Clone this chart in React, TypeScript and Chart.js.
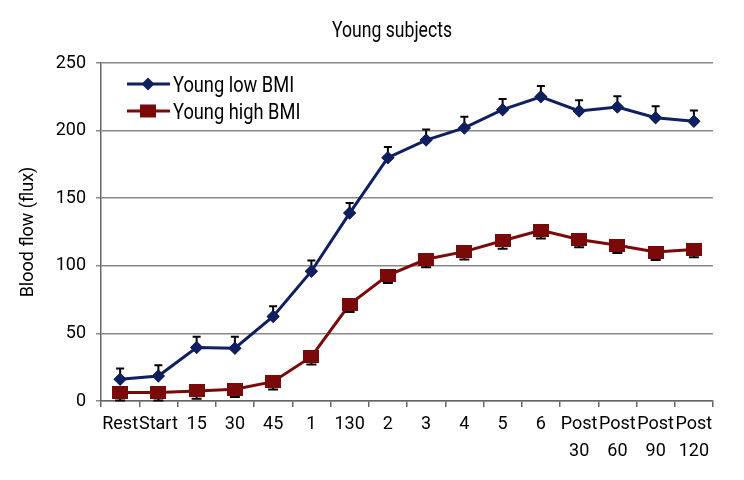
import React, { useEffect, useRef } from "react";
import { Chart, registerables } from "chart.js";

Chart.register(...registerables);

const categories: (string | string[])[] = [
  "Rest", "Start", "15", "30", "45", "1", "130", "2", "3", "4", "5", "6",
  ["Post", "30"], ["Post", "60"], ["Post", "90"], ["Post", "120"],
];
const lowBMI = [16, 18.5, 39.5, 39, 62.5, 96, 139, 180, 193, 202, 215.5, 225, 214.5, 217.5, 209.5, 207];
const lowBMIErr = [8, 8, 8, 8.5, 7.6, 7.9, 7.4, 7.9, 7.9, 8.2, 7.9, 8, 7.9, 7.9, 8.5, 7.9];
const highBMI = [6.2, 6.2, 7.4, 8.7, 14.3, 32.8, 71.5, 93, 104.8, 110.5, 118.5, 126.3, 119.5, 115.2, 110.2, 112];
const highBMIErr = [5.8, 5.8, 5.8, 5.8, 5.8, 5.8, 5.7, 5.8, 5.8, 5.8, 5.8, 6.2, 5.8, 5.8, 5.9, 5.6];
const yTicks = [0, 50, 100, 150, 200, 250];

const FONT = "Roboto, 'Liberation Sans', sans-serif";
const BLUE = "#0f1f5f";
const RED = "#7a0a0a";

function makeRectMarker(w: number, h: number, color: string) {
  const c = document.createElement("canvas");
  c.width = w;
  c.height = h;
  const cx = c.getContext("2d")!;
  cx.fillStyle = color;
  cx.fillRect(0, 0, w, h);
  return c;
}

const errorBarPlugin = {
  id: "errorBars",
  afterDatasetsDraw(chart: any) {
    const ctx = chart.ctx;
    const y = chart.scales.y;
    const sets = [
      { idx: 0, err: lowBMIErr, vals: lowBMI, up: true, down: false, cap: 4 },
      { idx: 1, err: highBMIErr, vals: highBMI, up: false, down: true, cap: 5 },
    ];
    ctx.save();
    ctx.strokeStyle = "#000";
    ctx.lineWidth = 2;
    for (const s of sets) {
      const meta = chart.getDatasetMeta(s.idx);
      meta.data.forEach((pt: any, i: number) => {
        const x = pt.x;
        const v = s.vals[i];
        const e = s.err[i];
        const ends: number[] = [];
        if (s.up) ends.push(y.getPixelForValue(v + e));
        if (s.down) ends.push(y.getPixelForValue(Math.max(0, v - e)));
        for (const ey of ends) {
          ctx.beginPath();
          ctx.moveTo(x, y.getPixelForValue(v));
          ctx.lineTo(x, ey);
          ctx.moveTo(x - s.cap, ey);
          ctx.lineTo(x + s.cap, ey);
          ctx.stroke();
        }
      });
    }
    ctx.restore();
    for (const idx of [0, 1]) {
      const meta = chart.getDatasetMeta(idx);
      meta.data.forEach((pt: any) => pt.draw(ctx, chart.chartArea));
    }
  },
};

function condensedText(ctx: any, text: string, x: number, y: number, align: "left" | "center", sx: number) {
  ctx.save();
  ctx.translate(x, y);
  ctx.scale(sx, 1);
  ctx.textAlign = align;
  ctx.fillText(text, 0, 0);
  ctx.restore();
}

const decorPlugin = {
  id: "decor",
  afterDraw(chart: any) {
    const ctx = chart.ctx;
    ctx.save();
    ctx.fillStyle = "#000";
    ctx.textBaseline = "alphabetic";
    ctx.font = `22px ${FONT}`;
    condensedText(ctx, "Young subjects", 392, 37, "center", 0.8);
    const items = [
      { label: "Young low BMI", color: BLUE, y: 84, style: "rectRot" },
      { label: "Young high BMI", color: RED, y: 111, style: "rect" },
    ];
    for (const it of items) {
      ctx.strokeStyle = it.color;
      ctx.lineWidth = 3;
      ctx.beginPath();
      ctx.moveTo(127, it.y);
      ctx.lineTo(170, it.y);
      ctx.stroke();
      ctx.fillStyle = it.color;
      if (it.style === "rectRot") {
        const r = 6.5;
        ctx.beginPath();
        ctx.moveTo(148, it.y - r);
        ctx.lineTo(148 + r, it.y);
        ctx.lineTo(148, it.y + r);
        ctx.lineTo(148 - r, it.y);
        ctx.closePath();
        ctx.fill();
      } else {
        ctx.fillRect(148 - 8, it.y - 6.5, 16, 13);
      }
      ctx.fillStyle = "#000";
      ctx.font = `22px ${FONT}`;
      condensedText(ctx, it.label, 173, it.y + 8, "left", 0.83);
    }
    ctx.restore();
  },
};

export default function App() {
  const ref = useRef<HTMLCanvasElement | null>(null);
  useEffect(() => {
    if (!ref.current) return;
    const redMarker = makeRectMarker(16, 13, RED);
    const chart = new Chart(ref.current, {
      type: "line",
      data: {
        labels: categories as any,
        datasets: [
          {
            label: "Young low BMI",
            data: lowBMI,
            borderColor: BLUE,
            backgroundColor: BLUE,
            borderWidth: 3,
            pointStyle: "rectRot",
            pointRadius: 6.5,
            pointBorderWidth: 0,
            tension: 0,
          },
          {
            label: "Young high BMI",
            data: highBMI,
            borderColor: RED,
            backgroundColor: RED,
            borderWidth: 3,
            pointStyle: redMarker as any,
            pointRadius: 8,
            pointBorderWidth: 0,
            tension: 0,
          },
        ],
      },
      options: {
        animation: false,
        responsive: false,
        maintainAspectRatio: false,
        layout: { padding: { top: 63, right: 31, left: 18, bottom: 0 } },
        plugins: {
          legend: { display: false },
          title: { display: false },
          tooltip: { enabled: false },
        },
        scales: {
          x: {
            type: "category",
            offset: true,
            grid: {
              display: true,
              offset: true,
              drawOnChartArea: false,
              drawTicks: true,
              tickLength: 6,
              color: "#666",
              lineWidth: 1.5,
            },
            border: { display: true, color: "#666", width: 1.5 },
            ticks: {
              color: "#000",
              font: { family: FONT, size: 18, lineHeight: 1.5 },
              maxRotation: 0,
              autoSkip: false,
              padding: 4,
            },
            afterFit(scale: any) {
              scale.height = 79;
            },
          },
          y: {
            min: 0,
            max: 250,
            afterBuildTicks(scale: any) {
              scale.ticks = yTicks.map((v) => ({ value: v }));
            },
            grid: {
              color: "#888",
              lineWidth: 1.5,
              tickLength: 5,
              drawTicks: true,
            },
            border: { display: true, color: "#666", width: 1.5 },
            ticks: {
              color: "#000",
              font: { family: FONT, size: 18 },
              padding: 10,
            },
            title: {
              display: true,
              text: "Blood flow (flux)",
              color: "#000",
              font: { family: FONT, size: 18 },
              padding: 0,
            },
            afterFit(scale: any) {
              scale.width = 83;
            },
          },
        },
      },
      plugins: [errorBarPlugin, decorPlugin],
    });
    return () => chart.destroy();
  }, []);
  return (
    <div style={{ position: "absolute", left: 0, top: 0, width: 744, height: 480, background: "#fff" }}>
      <canvas ref={ref} width={744} height={480} style={{ width: 744, height: 480 }} />
    </div>
  );
}
